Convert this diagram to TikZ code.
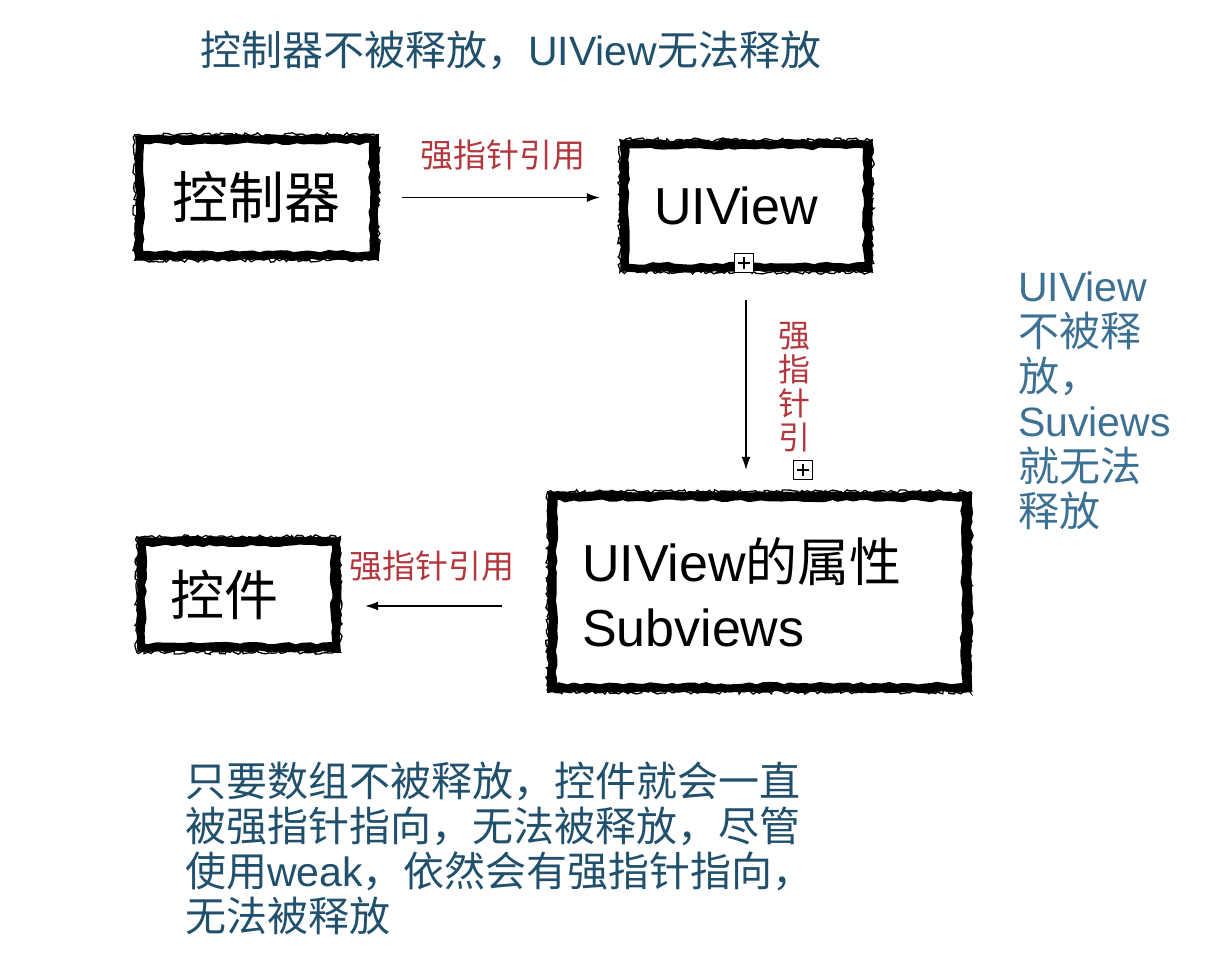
\documentclass[tikz,border=0pt]{standalone}
\usepackage{fontspec}
\setmainfont{Noto Sans CJK SC}
\newfontfamily\latn{Liberation Sans}
\usepackage{tikz}
\usetikzlibrary{calc, positioning, arrows.meta, decorations.pathmorphing}
\definecolor{titleblue}{HTML}{21506D}
\definecolor{noteblue}{HTML}{3D7193}
\definecolor{refred}{HTML}{B3373D}

\begin{document}
\begin{tikzpicture}[x=1pt, y=-1pt,
        brush/.style={line width=8pt, decorate, decoration={random steps, segment length=7pt, amplitude=1.4pt}},
        brushedge/.style={line width=1.3pt, decorate, decoration={random steps, segment length=3pt, amplitude=2pt}},
        boxtext/.style={font=\fontsize{52}{65}\selectfont, inner sep=0pt},
        conn/.style={-{Latex[length=13pt, width=9pt]}, line width=1.2pt},
        redlbl/.style={text=refred, font=\fontsize{33}{34}\selectfont, inner sep=0pt},
        note/.style={font=\fontsize{41}{45}\selectfont, align=left, inner sep=0pt},
        marker/.style={draw, fill=white, line width=1.2pt, minimum size=19pt, inner sep=0pt,
            path picture={\draw[line width=1.2pt]
                ([xshift=3.5pt]path picture bounding box.west) -- ([xshift=-3.5pt]path picture bounding box.east)
                ([yshift=-3.5pt]path picture bounding box.north) -- ([yshift=3.5pt]path picture bounding box.south);}}]
        \pgfmathsetseed{11}
        \useasboundingbox (0,0) rectangle (1218,966);

        \node[note, text=titleblue, anchor=west] (title) at (200,50) {控制器不被释放，{\latn UIView}无法释放};

        \node[boxtext, font=\fontsize{56}{65}\selectfont, minimum width=233pt, minimum height=115pt] (ctrl) at (256.5,197.5) {控制器};
        \node[boxtext, minimum width=242pt, minimum height=122pt,
            label={[boxtext, name=viewtxt, xshift=-10pt]center:\latn UIView}] (view) at (746,206) {};
        \node[boxtext, minimum width=412pt, minimum height=190pt, text width=354pt, align=left] (subs) at (759,592)
            {{\latn UIView}的属性\\{\latn Subviews}};
        \node[boxtext, minimum width=193pt, minimum height=105pt,
            label={[boxtext, name=ctltxt, font=\fontsize{54}{65}\selectfont, xshift=-14pt]center:控件}] (ctl) at (238.5,594.5) {};

        \draw[brush] (ctrl.north west) rectangle (ctrl.south east);
        \draw[brush, line width=5pt] ($(ctrl.north west)+(-2,-2)$) rectangle ($(ctrl.south east)+(3,2)$);
        \draw[brushedge] ($(ctrl.north west)+(-5,-5)$) rectangle ($(ctrl.south east)+(5,5)$);
        \draw[brush] (view.north west) rectangle (view.south east);
        \draw[brush, line width=5pt] ($(view.north west)+(-2,-2)$) rectangle ($(view.south east)+(3,2)$);
        \draw[brushedge] ($(view.north west)+(-5,-5)$) rectangle ($(view.south east)+(5,5)$);
        \draw[brush] (subs.north west) rectangle (subs.south east);
        \draw[brush, line width=6pt] ($(subs.north west)+(-2,-2)$) rectangle ($(subs.south east)+(4,2)$);
        \draw[brushedge] ($(subs.north west)+(-5,-5)$) rectangle ($(subs.south east)+(5,5)$);
        \draw[brush] (ctl.north west) rectangle (ctl.south east);
        \draw[brush, line width=5pt] ($(ctl.north west)+(-2,-2)$) rectangle ($(ctl.south east)+(3,2)$);
        \draw[brushedge] ($(ctl.north west)+(-5,-5)$) rectangle ($(ctl.south east)+(5,5)$);

        \node[marker] (m1) at (744,263) {};
        \node[marker] (m2) at (803,470) {};

        \draw[conn, shorten <=29pt, shorten >=25pt] (ctrl.east) -- (ctrl.east -| view.west);
        \draw[conn, shorten <=33pt, shorten >=27pt] (view.south) -- (view.south |- subs.north);
        \draw[conn, shorten <=51pt, shorten >=30pt] ([yshift=-14pt]subs.west) -- ([yshift=-14pt]subs.west -| ctl.east);

        \node[redlbl] (lbl1) at (503,155) {强指针引用};
        \node[redlbl, align=center, font=\fontsize{32}{34}\selectfont] (lbl2) at (794,387) {强\\指\\针\\引};
        \node[redlbl] (lbl3) at (432,566) {强指针引用};

        \node[note, text=noteblue, anchor=west] (rnote) at (1018,401)
            {{\latn UIView}\\不被释\\放，\\{\latn Suviews}\\就无法\\释放};
        \node[note, text=titleblue, anchor=west] (bnote) at (185,848)
            {只要数组不被释放，控件就会一直\\被强指针指向，无法被释放，尽管\\使用{\latn weak}，依然会有强指针指向，\\无法被释放};
    \end{tikzpicture}
\end{document}
